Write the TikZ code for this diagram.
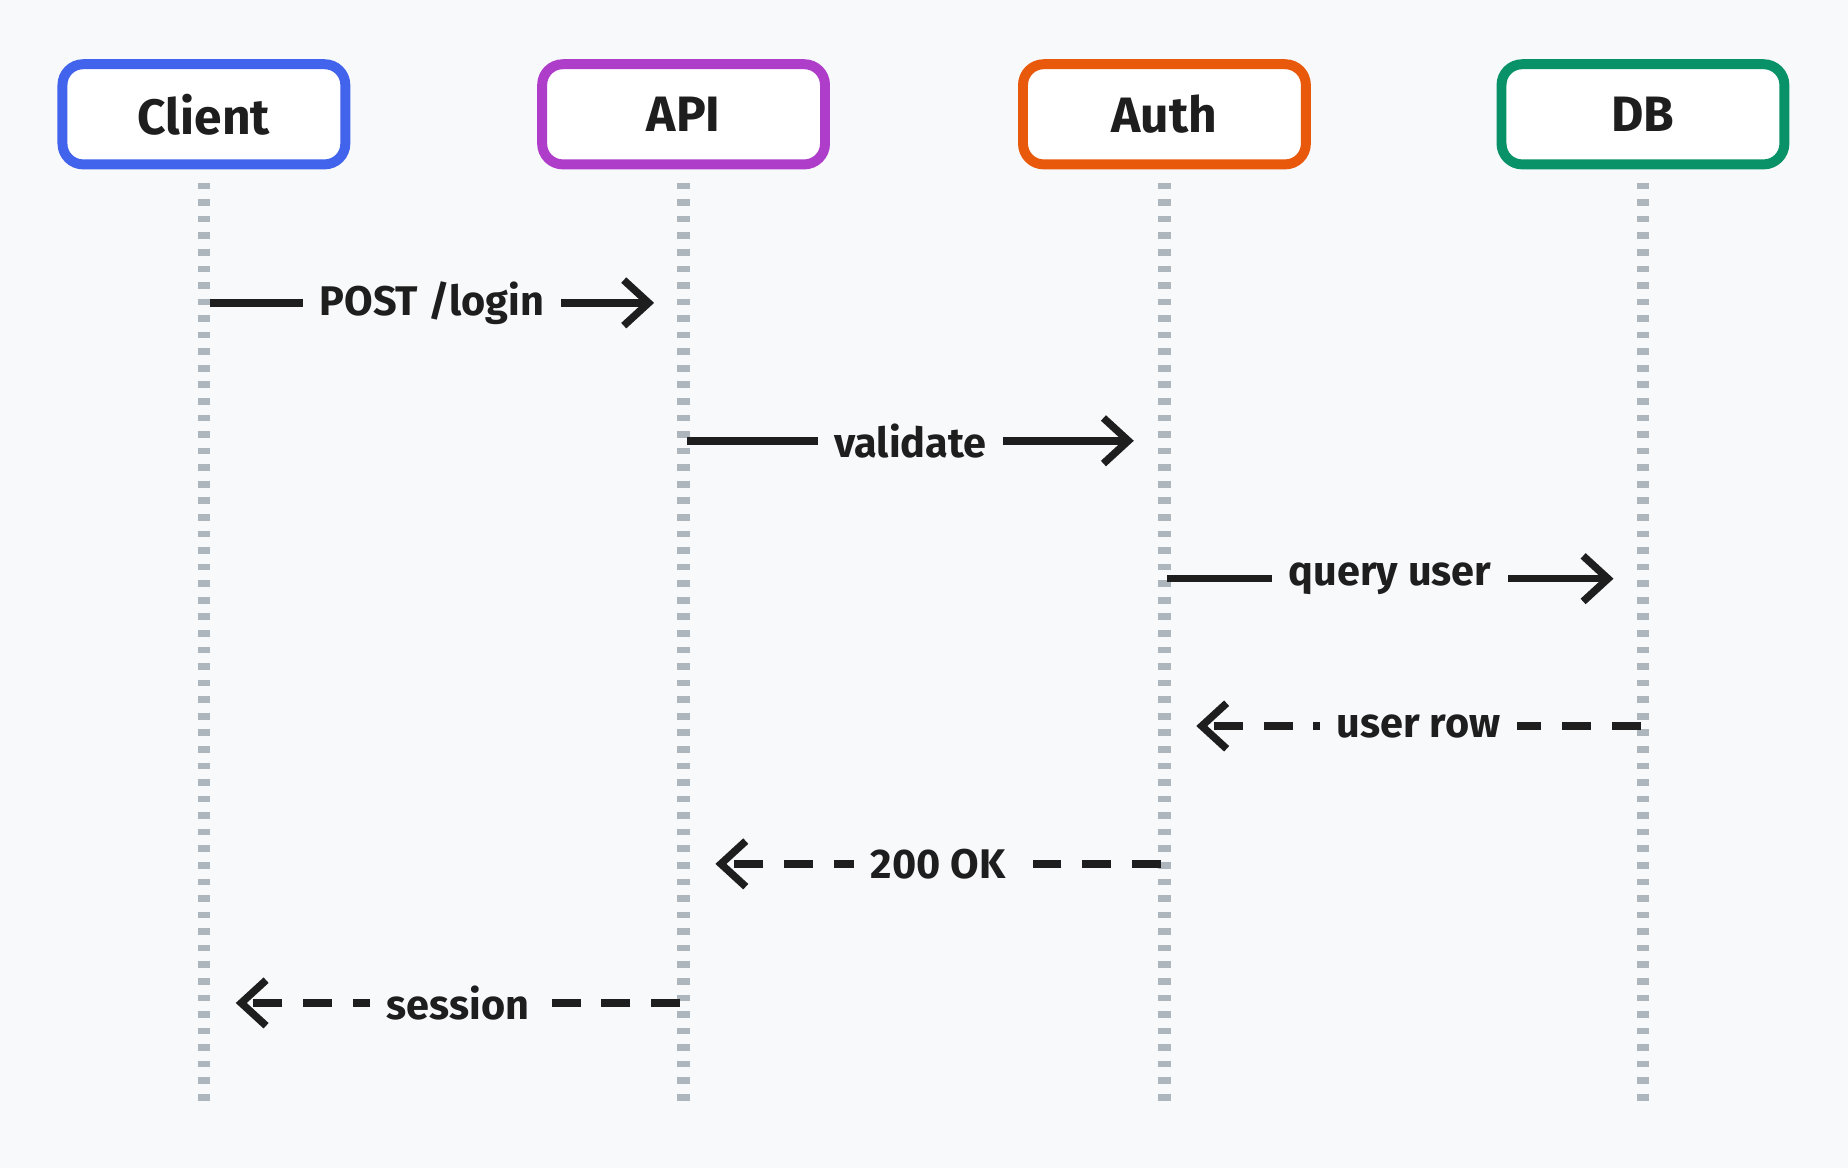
\documentclass[tikz,border=0pt]{standalone}
\usepackage{fontspec}
\setmainfont{Fira Sans}
\usetikzlibrary{arrows.meta}
\definecolor{bgcol}{HTML}{F8F9FB}
\definecolor{lanegray}{HTML}{ADB5BD}
\definecolor{inkcol}{HTML}{1E1E1E}
\definecolor{clientcol}{HTML}{4263EB}
\definecolor{apicol}{HTML}{AE3EC9}
\definecolor{authcol}{HTML}{E8590C}
\definecolor{dbcol}{HTML}{099268}
\tikzset{
  actor/.style={draw=#1, line width=2.4pt, rounded corners=5pt, fill=white,
    minimum width=2.4cm, minimum height=0.85cm, font=\large\bfseries, text=inkcol},
  lane/.style={lanegray, line width=3pt, dash pattern=on 1.6pt off 2.4pt},
  call/.style={inkcol, line width=1.8pt, -{Straight Barb[length=6pt,width=11pt]}},
  reply/.style={call, dash pattern=on 7pt off 5pt},
  lbl/.style={fill=bgcol, font=\bfseries, text=inkcol, inner sep=4pt}
}
\begin{document}
\begin{tikzpicture}
\fill[bgcol] (0,0) rectangle (15.68,-9.91);
\useasboundingbox (0,0) rectangle (15.68,-9.91);

% actors
\node[actor=clientcol] (client) at (1.73,-0.97) {Client};
\node[actor=apicol]    (api)    at (5.80,-0.97) {API};
\node[actor=authcol]   (auth)   at (9.88,-0.97) {Auth};
\node[actor=dbcol]     (db)     at (13.94,-0.97) {DB};

% lifelines
\foreach \who in {client,api,auth,db}
  \draw[lane] (\who |- 0,-1.55) -- (\who |- 0,-9.37);

% message rows
\coordinate (r1) at (0,-2.57);
\coordinate (r2) at (0,-3.74);
\coordinate (r3) at (0,-4.91);
\coordinate (r4) at (0,-6.16);
\coordinate (r5) at (0,-7.33);
\coordinate (r6) at (0,-8.51);

\draw[call] ([xshift=.05cm]client |- r1) -- node[lbl]{POST /login} ([xshift=-.25cm]api |- r1);
\draw[call] ([xshift=.03cm]api |- r2) -- node[lbl]{validate} ([xshift=-.26cm]auth |- r2);
\draw[call] ([xshift=.02cm]auth |- r3) -- node[lbl]{query user} ([xshift=-.25cm]db |- r3);
\draw[reply] ([xshift=-.02cm]db |- r4) -- node[lbl]{user row} ([xshift=.27cm]auth |- r4);
\draw[reply] ([xshift=-.03cm]auth |- r5) -- node[lbl]{200 OK} ([xshift=.27cm]api |- r5);
\draw[reply] ([xshift=-.03cm]api |- r6) -- node[lbl]{session} ([xshift=.27cm]client |- r6);
\end{tikzpicture}
\end{document}
